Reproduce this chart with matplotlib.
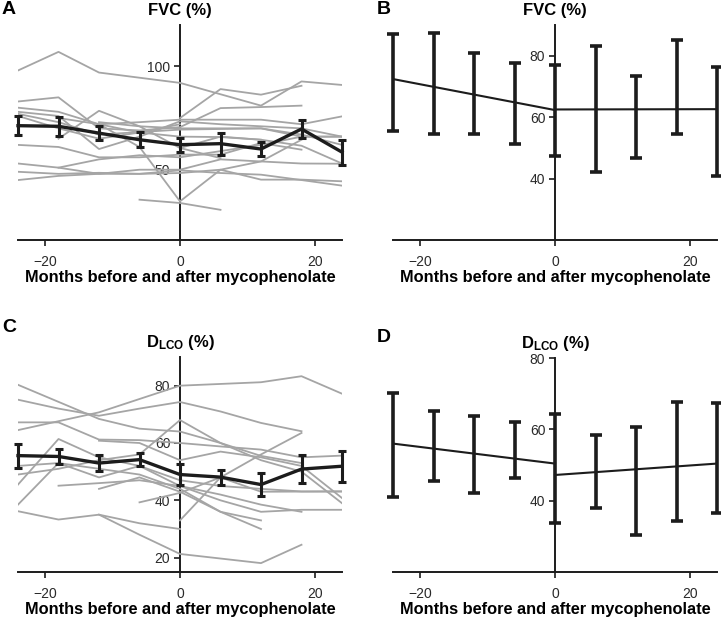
import matplotlib
matplotlib.use("Agg")
import matplotlib.pyplot as plt

plt.rcParams['font.family'] = ['Liberation Sans', 'DejaVu Sans']
plt.rcParams['mathtext.fontset'] = 'custom'
plt.rcParams['mathtext.rm'] = 'Liberation Sans'
plt.rcParams['mathtext.bf'] = 'Liberation Sans:bold'

months = [-24, -18, -12, -6, 0, 6, 12, 18, 24]

# FVC (%) group mean, standard error and standard deviation
fvc_mean = [71.3, 71.0, 67.7, 64.5, 62.1, 62.6, 60.0, 69.7, 58.5]
fvc_se = [4.65, 4.7, 3.25, 3.7, 3.45, 5.3, 3.2, 4.35, 6.1]
fvc_sd = [15.9, 16.5, 13.05, 13.2, 14.85, 20.6, 13.3, 15.3, 17.7]
fvc_fit_pre_x = [-24, 0]
fvc_fit_pre_y = [72.4, 62.3]
fvc_fit_post_x = [0, 24]
fvc_fit_post_y = [62.5, 62.6]

# DLCO (%) group mean, standard error and standard deviation
dlco_mean = [55.6, 55.3, 53.0, 54.2, 49.0, 48.1, 45.5, 50.9, 51.9]
dlco_se = [4.2, 2.75, 2.9, 2.2, 3.75, 2.65, 4.0, 5.0, 5.4]
dlco_sd = [14.45, 9.8, 10.85, 7.85, 15.3, 10.25, 15.25, 16.65, 15.45]
dlco_fit_pre_x = [-24, 0]
dlco_fit_pre_y = [56.0, 50.4]
dlco_fit_post_x = [0, 24]
dlco_fit_post_y = [47.2, 50.4]

# individual patient FVC trajectories
fvc_ind_x = [
    [-24, -18, -12, 0, 12, 18, 24],
    [0, 6, 12, 18],
    [-24, -18, -12, -6, 0, 6, 12, 18],
    [-24, -18, -12, -6, 0, 6, 12, 18, 24],
    [-24, -18, -12, -6, 0, 6, 12, 18, 24],
    [-24, -18, -12, 0, 6, 12, 18, 24],
    [-24, -18, -12, -6, 0, 6, 12, 18],
    [-24, -18, -12, -6, 0, 6, 12, 18, 24],
    [-24, -18, -12, -6, 0, 6, 12, 18, 24],
    [-24, -18, -12, -6, 0, 6, 12, 18, 24],
    [-18, -12, -6, 0, 6],
    [-12, -6, 0, 6, 12, 18],
    [-6, 0, 6],
    [-18, -12, -6, 0, 6, 12, 18, 24],
    [0, 6, 12, 18, 24],
    [-18, -12, -6, 0, 6, 12],
    [-24, -18, -12, -6, 0],
    [-12, -6, 0, 6, 12, 18, 24],
]
fvc_ind_y = [
    [98, 107, 97, 92, 81, 92.7, 91],
    [75, 89, 86.3, 90.6],
    [83, 85, 70, 69, 70.6, 79.8, 80.3, 81],
    [80, 78, 72, 73, 74.2, 74.2, 74.2, 72, 75.8],
    [78, 76, 60, 66, 73.4, 72, 71, 70, 66],
    [77, 73, 67, 69.4, 69.7, 70, 66, 66],
    [62, 61, 56, 56, 57.3, 57.3, 62.9, 59.7],
    [53, 51, 48, 48, 48.4, 50, 45.2, 45.2, 44.4],
    [49, 48, 48.5, 48, 49.7, 48.4, 47.6, 45, 42.3],
    [45, 47, 48, 50, 50, 55, 54, 53, 52.9],
    [65, 78.5, 71, 60.5, 55.6],
    [72, 61, 34.7, 50, 54, 64.5],
    [35.5, 33.9, 30.6],
    [51, 55, 57, 56, 59, 62, 66, 66],
    [60.5, 66, 64.5, 61.6, 53],
    [75, 72, 68, 66, 65.8, 64.5],
    [76, 70, 65, 68, 72],
    [73, 71, 70, 70, 70, 67, 62],
]

# individual patient DLCO trajectories
dlco_ind_x = [
    [-24, -12, 0, 12, 18, 24],
    [-24, -12, -6, 0, 6, 12, 18],
    [-24, -18, -12, -6, 0, 6, 12, 18],
    [-24, -18, -12, -6, 0, 6, 12, 18, 24],
    [-24, -18, -12, -6, 0, 6, 12, 18, 24],
    [-24, -18, -12, -6, 0, 6, 12, 18, 24],
    [-24, -18, -12, -6, 0, 6, 12],
    [-24, -18, -12, -6, 0],
    [-12, -6, 0, 12, 18],
    [-18, -12, -6, 0, 6, 12, 18],
    [-6, 0, 6, 12, 18],
    [-12, -6, 0, 6, 12, 18, 24],
    [-24, -18, -12, -6, 0, 6, 12, 18, 24],
    [0, 6, 12, 24],
    [-12, -6, 0, 6, 12],
]
dlco_ind_y = [
    [64.5, 70.7, 80.0, 81.2, 83.3, 77.2],
    [80.3, 68.4, 65.0, 64.0, 60.0, 55.5, 53.0],
    [75.1, 72.0, 69.5, 72.0, 74.3, 71.0, 67.0, 64.1],
    [67.2, 67.2, 61.2, 61.0, 60.0, 58.8, 57.7, 55.0, 55.6],
    [49.0, 51.0, 54.0, 56.0, 68.0, 60.0, 54.0, 50.0, 39.0],
    [45.5, 61.4, 55.0, 52.0, 47.0, 45.0, 44.0, 43.1, 43.1],
    [38.5, 53.0, 51.0, 49.0, 44.0, 36.0, 33.0],
    [36.2, 33.3, 35.0, 32.0, 30.0],
    [35.0, 28.0, 21.3, 18.1, 24.5],
    [45.1, 46.0, 47.0, 45.0, 42.0, 38.5, 36.0],
    [39.3, 42.6, 48.0, 56.0, 63.5],
    [60.8, 60.0, 54.0, 57.0, 55.0, 52.0, 40.8],
    [52.0, 53.0, 48.0, 52.0, 45.0, 40.0, 36.0, 36.7, 36.7],
    [33.0, 48.0, 43.0, 43.1],
    [44.0, 48.0, 43.0, 36.0, 30.0],
]

xticks = [-20, 0, 20]
fvc_ticks_a = [50, 100]
fvc_ticks_b = [40, 60, 80]
dlco_ticks_c = [20, 40, 60, 80]
dlco_ticks_d = [40, 60, 80]

XLABEL = "Months before and after mycophenolate"
GRAY = "#a5a5a5"
BLACK = "#1c1c1c"

fig = plt.figure(figsize=(7.21, 6.21), dpi=100)
W, H = 721, 621


def make_ax(x0, ytop, ybot):
    return fig.add_axes([x0 / W, 1 - ybot / H, 324 / W, (ybot - ytop) / H])


def style(ax, ylim, yticks, title):
    ax.set_xlim(-24, 24)
    ax.set_ylim(*ylim)
    for s in ("top", "right"):
        ax.spines[s].set_visible(False)
    ax.spines["left"].set_position(("data", 0))
    ax.spines["left"].set_linewidth(1.4)
    ax.spines["bottom"].set_linewidth(1.4)
    ax.spines["left"].set_color(BLACK)
    ax.spines["bottom"].set_color(BLACK)
    ax.set_xticks(xticks)
    ax.set_yticks(yticks)
    ax.tick_params(axis="both", length=4, width=1.2, color=BLACK,
                   labelsize=10, labelcolor="#2a2a2a")
    ax.tick_params(axis="x", pad=6.5)
    ax.tick_params(axis="y", pad=3)
    ax.set_xlabel(XLABEL, fontsize=11.8, fontweight="bold", labelpad=1)
    ax.set_title(title, fontsize=12, fontweight="bold", pad=7)
    ax.patch.set_alpha(0)


# Panel A
axA = make_ax(18, 25, 240)
for xs, ys in zip(fvc_ind_x, fvc_ind_y):
    axA.plot(xs, ys, color=GRAY, lw=1.3, zorder=3)
axA.errorbar(months, fvc_mean, yerr=fvc_se, color=BLACK, lw=2.4,
             elinewidth=2.2, capsize=3.2, capthick=2.2, zorder=4, clip_on=False)
style(axA, (16, 120), fvc_ticks_a, "FVC (%)")

# Panel B
axB = make_ax(393, 25, 240)
axB.plot(fvc_fit_pre_x, fvc_fit_pre_y, color=BLACK, lw=1.5, zorder=3)
axB.plot(fvc_fit_post_x, fvc_fit_post_y, color=BLACK, lw=1.5, zorder=3)
axB.errorbar(months, fvc_mean, yerr=fvc_sd, fmt="none", ecolor=BLACK,
             elinewidth=2.6, capsize=4, capthick=2.6, zorder=4, clip_on=False)
style(axB, (20, 90), fvc_ticks_b, "FVC (%)")

# Panel C
axC = make_ax(18, 357, 572)
for xs, ys in zip(dlco_ind_x, dlco_ind_y):
    axC.plot(xs, ys, color=GRAY, lw=1.3, zorder=3)
axC.errorbar(months, dlco_mean, yerr=dlco_se, color=BLACK, lw=2.4,
             elinewidth=2.2, capsize=3.2, capthick=2.2, zorder=4, clip_on=False)
style(axC, (15, 90), dlco_ticks_c, r"$\mathbf{D_{LCO}}$ (%)")

# Panel D
axD = make_ax(393, 358, 572)
axD.plot(dlco_fit_pre_x, dlco_fit_pre_y, color=BLACK, lw=1.5, zorder=3)
axD.plot(dlco_fit_post_x, dlco_fit_post_y, color=BLACK, lw=1.5, zorder=3)
axD.errorbar(months, dlco_mean, yerr=dlco_sd, fmt="none", ecolor=BLACK,
             elinewidth=2.6, capsize=4, capthick=2.6, zorder=4, clip_on=False)
style(axD, (20, 80), dlco_ticks_d, r"$\mathbf{D_{LCO}}$ (%)")

for letter, px, py in (("A", 2, 9), ("B", 377, 9), ("C", 2, 327), ("D", 377, 337)):
    fig.text(px / W, 1 - py / H, letter, fontsize=14, fontweight="bold",
             ha="left", va="center")

fig.savefig("out.png", dpi=100)
